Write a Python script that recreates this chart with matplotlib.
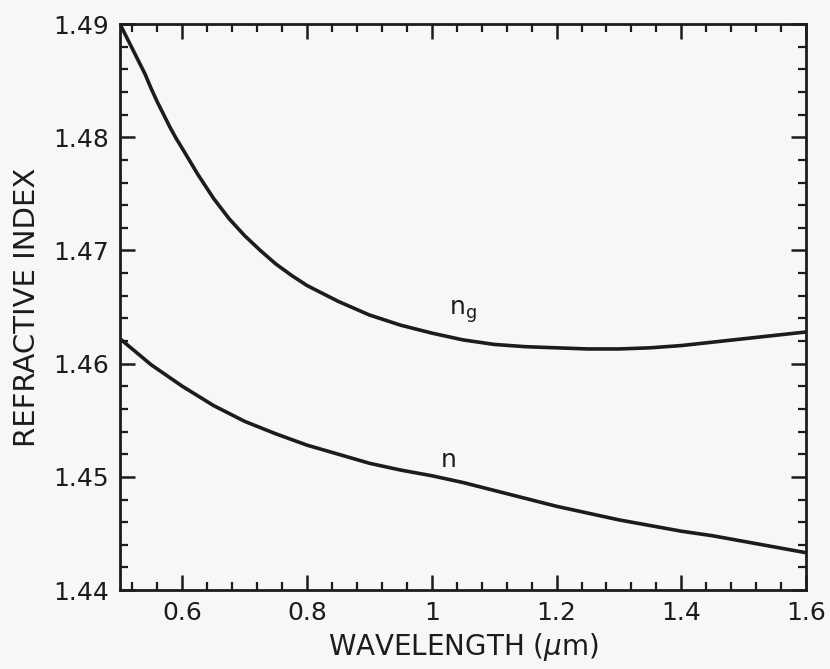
import matplotlib
matplotlib.use("Agg")
import matplotlib.pyplot as plt
from matplotlib.ticker import MultipleLocator, FixedLocator

# Data
wl_n = [0.50, 0.55, 0.60, 0.65, 0.70, 0.75, 0.80, 0.85, 0.90, 0.95, 1.00,
        1.05, 1.10, 1.15, 1.20, 1.25, 1.30, 1.35, 1.40, 1.45, 1.50, 1.55, 1.60]
n_vals = [1.4622, 1.4599, 1.4580, 1.4563, 1.4549, 1.4538, 1.4528, 1.4520,
          1.4512, 1.4506, 1.4501, 1.4495, 1.4488, 1.4481, 1.4474, 1.4468,
          1.4462, 1.4457, 1.4452, 1.4448, 1.4443, 1.4438, 1.4433]

wl_ng = [0.50, 0.51, 0.52, 0.53, 0.54, 0.55, 0.56, 0.57, 0.58, 0.59, 0.60,
         0.625, 0.65, 0.675, 0.70, 0.725, 0.75, 0.775,
         0.80, 0.85, 0.90, 0.95, 1.00, 1.05, 1.10, 1.15, 1.20, 1.25, 1.30,
         1.35, 1.40, 1.45, 1.50, 1.55, 1.60]
ng_vals = [1.4900, 1.4889, 1.4878, 1.4867, 1.4856, 1.4843, 1.4831, 1.4820,
           1.4809, 1.4799, 1.4790, 1.4767, 1.4746, 1.4728, 1.4713, 1.4700,
           1.4688, 1.4678, 1.4669, 1.4655, 1.4643, 1.4634, 1.4627,
           1.4621, 1.4617, 1.4615, 1.4614, 1.4613, 1.4613, 1.4614, 1.4616,
           1.4619, 1.4622, 1.4625, 1.4628]

x_ticks = [0.6, 0.8, 1.0, 1.2, 1.4, 1.6]
x_tick_labels = ["0.6", "0.8", "1", "1.2", "1.4", "1.6"]
x_minor = [0.52, 0.56, 0.64, 0.68, 0.72, 0.76, 0.84, 0.88, 0.92, 0.96,
           1.04, 1.08, 1.12, 1.16, 1.24, 1.28, 1.32, 1.36, 1.44, 1.48,
           1.52, 1.56]
y_ticks = [1.44, 1.45, 1.46, 1.47, 1.48, 1.49]
y_tick_labels = ["1.44", "1.45", "1.46", "1.47", "1.48", "1.49"]

ink = "#1c1c1c"
paper = "#f7f7f5"

fig = plt.figure(figsize=(8.3, 6.69), dpi=100, facecolor=paper)
ax = fig.add_axes([0.1446, 0.118, 0.8265, 0.846], facecolor=paper)

ax.plot(wl_ng, ng_vals, color=ink, lw=2.6, solid_capstyle="round",
        solid_joinstyle="round")
ax.plot(wl_n, n_vals, color=ink, lw=2.6, solid_capstyle="round",
        solid_joinstyle="round")

ax.set_xlim(0.5, 1.6)
ax.set_ylim(1.44, 1.49)

ax.xaxis.set_major_locator(FixedLocator(x_ticks))
ax.set_xticklabels(x_tick_labels)
ax.xaxis.set_minor_locator(FixedLocator(x_minor))
ax.yaxis.set_major_locator(FixedLocator(y_ticks))
ax.set_yticklabels(y_tick_labels)
ax.yaxis.set_minor_locator(MultipleLocator(0.002))

ax.tick_params(which="both", direction="in", top=True, right=True,
               color=ink, labelcolor=ink)
ax.tick_params(which="major", length=11, width=1.8, labelsize=18, pad=8)
ax.tick_params(which="minor", length=5.5, width=1.6)

for s in ax.spines.values():
    s.set_linewidth(2.0)
    s.set_color(ink)

ax.set_xlabel("WAVELENGTH ($\\mu$m)", fontsize=20, color=ink, labelpad=4)
ax.set_ylabel("REFRACTIVE INDEX", fontsize=21, color=ink, labelpad=9)

ax.text(1.05, 1.4646, "n$_\\mathregular{g}$", fontsize=18, color=ink,
        ha="center", va="center")
ax.text(1.027, 1.4515, "n", fontsize=18, color=ink, ha="center", va="center")

fig.savefig("out.png", dpi=100, facecolor=paper)
